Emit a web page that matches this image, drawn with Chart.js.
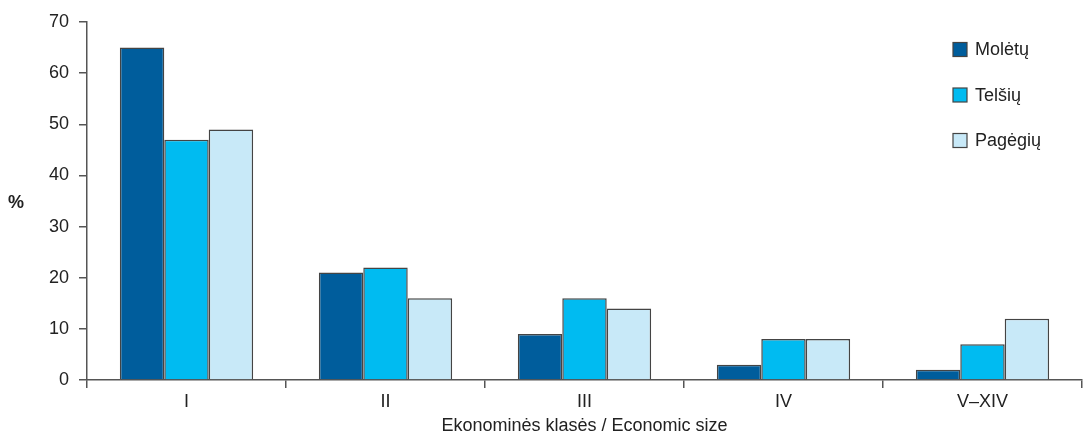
<!DOCTYPE html>
<html>
<head>
<meta charset="utf-8">
<script src="https://cdn.jsdelivr.net/npm/chart.js@4/dist/chart.umd.min.js"></script>
<style>
  html, body { margin: 0; padding: 0; background: #fff; }
  #wrap { width: 1083px; height: 435px; position: relative; }
</style>
</head>
<body>
<div id="wrap"><canvas id="chart"></canvas></div>
<script>
// Ekonominės klasės ir rajonų duomenys (%)
const classes = ["I", "II", "III", "IV", "V–XIV"];
const moletu = [65, 21, 9, 3, 2];
const telsiu = [47, 22, 16, 8, 7];
const pagegiu = [49, 16, 14, 8, 12];
const yTicks = [0, 10, 20, 30, 40, 50, 60, 70];

const FONT = "'Liberation Sans', Arial, sans-serif";
const AXIS = "#555";
const EDGE = "#444";

// Legenda piešiama pačiame grafiko plote, dešinėje
const sideLegend = {
  id: "sideLegend",
  afterDraw(chart) {
    const ctx = chart.ctx;
    ctx.save();
    ctx.font = "18px " + FONT;
    ctx.textBaseline = "middle";
    chart.data.datasets.forEach((ds, i) => {
      const cy = 49.5 + i * 45.5;
      ctx.fillStyle = ds.backgroundColor;
      ctx.fillRect(953, cy - 7, 14, 14);
      ctx.strokeStyle = EDGE;
      ctx.lineWidth = 1.2;
      ctx.strokeRect(953, cy - 7, 14, 14);
      ctx.fillStyle = "#222";
      ctx.fillText(ds.label, 975, cy + 1);
    });
    // "%" ženklas prie y ašies
    ctx.font = "bold 18px " + FONT;
    ctx.textAlign = "center";
    ctx.fillText("%", 16, 203);
    ctx.restore();
  }
};

function dataset(label, data, color) {
  return {
    label: label,
    data: data,
    backgroundColor: color,
    borderColor: EDGE,
    borderWidth: 1.5,
    borderSkipped: "bottom",
    categoryPercentage: 0.67,
    barPercentage: 1.0
  };
}

new Chart(document.getElementById("chart"), {
  type: "bar",
  data: {
    labels: classes,
    datasets: [
      dataset("Molėtų", moletu, "#005d9c"),
      dataset("Telšių", telsiu, "#00bbf1"),
      dataset("Pagėgių", pagegiu, "#c8e9f8")
    ]
  },
  options: {
    responsive: true,
    maintainAspectRatio: false,
    animation: false,
    layout: { padding: { left: 0, right: 1, top: 22, bottom: 0 } },
    plugins: {
      legend: { display: false },
      tooltip: { enabled: false }
    },
    scales: {
      x: {
        grid: {
          offset: true,
          drawOnChartArea: false,
          drawTicks: true,
          tickLength: 8,
          color: AXIS,
          lineWidth: 1.5
        },
        border: { color: AXIS, width: 1.5 },
        ticks: { color: "#222", font: { family: FONT, size: 18 }, padding: 3 },
        title: {
          display: true,
          text: "Ekonominės klasės / Economic size",
          color: "#222",
          font: { family: FONT, size: 18, lineHeight: 1 },
          padding: { top: 0, bottom: 0 }
        },
        afterFit(axis) { axis.height = 55; }
      },
      y: {
        min: 0,
        max: 70,
        afterBuildTicks(axis) { axis.ticks = yTicks.map(v => ({ value: v })); },
        grid: {
          drawOnChartArea: false,
          drawTicks: true,
          tickLength: 8,
          color: AXIS,
          lineWidth: 1.5
        },
        border: { color: AXIS, width: 1.5 },
        ticks: { color: "#222", font: { family: FONT, size: 18 }, padding: 10 },
        afterFit(axis) { axis.width = 87; }
      }
    }
  },
  plugins: [sideLegend]
});
</script>
</body>
</html>
